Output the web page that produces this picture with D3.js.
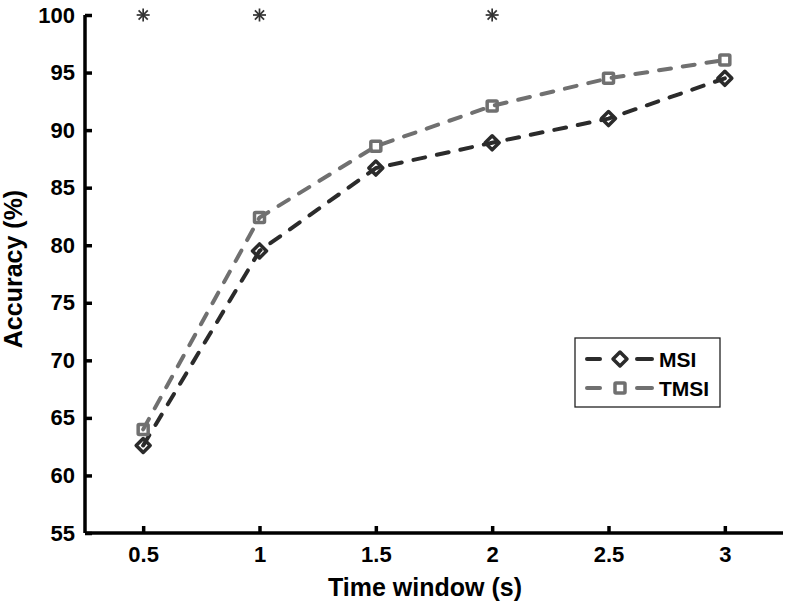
<!DOCTYPE html>
<html>
<head>
<meta charset="utf-8">
<script src="https://cdn.jsdelivr.net/npm/d3@7"></script>
<style>
html, body { margin: 0; padding: 0; background: #fff; }
svg { display: block; }
text { font-family: "Liberation Sans", Arial, Helvetica, sans-serif; font-weight: bold; fill: #000; }
</style>
</head>
<body>
<svg id="chart" width="789" height="604"></svg>
<script>
const timeWindows = [0.5, 1, 1.5, 2, 2.5, 3];
const msiValues  = [62.6, 79.5, 86.7, 88.9, 91.0, 94.5];
const tmsiValues = [64.0, 82.4, 88.6, 92.1, 94.5, 96.1];
const starWindows = [0.5, 1, 2];
const starLevel = 100;
const yTicks = [55, 60, 65, 70, 75, 80, 85, 90, 95, 100];
const xTicks = [0.5, 1, 1.5, 2, 2.5, 3];
const seriesNames = ["MSI", "TMSI"];
const seriesColors = ["#2b2b2b", "#707070"];

(function () {
const svg = d3.select("#chart");
const mLeft = 85, mRight = 783, mTop = 15, mBottom = 533;

const x = d3.scaleLinear().domain([0.25, 3.25]).range([mLeft, mRight]);
const y = d3.scaleLinear().domain([55, 100]).range([mBottom, mTop]);

// axes
const xAxis = svg.append("g").attr("transform", `translate(0,${mBottom})`)
  .call(d3.axisBottom(x).tickValues(xTicks).tickSize(-7).tickPadding(13).tickFormat(d3.format("")));
const yAxis = svg.append("g").attr("transform", `translate(${mLeft},0)`)
  .call(d3.axisLeft(y).tickValues(yTicks).tickSize(-7).tickPadding(10).tickFormat(d3.format("")));

[xAxis, yAxis].forEach(g => {
  g.select(".domain").attr("stroke", "#000").attr("stroke-width", 3.5);
  g.selectAll(".tick line").attr("stroke", "#000").attr("stroke-width", 3.5);
  g.selectAll(".tick text").style("font-size", "22px").style("font-family", "'Liberation Sans', Arial, sans-serif").style("font-weight", "bold").attr("fill", "#000");
});
xAxis.select(".domain").attr("d", `M${mLeft},0H${mRight}`);
yAxis.select(".domain").attr("d", `M0,${mBottom}V${mTop}`);

// titles
svg.append("text").attr("x", 425).attr("y", 596).attr("text-anchor", "middle")
  .style("font-size", "25px").text("Time window (s)");
svg.append("text").attr("transform", "translate(22,269) rotate(-90)").attr("text-anchor", "middle")
  .style("font-size", "25px").text("Accuracy (%)");

const series = [msiValues, tmsiValues];
const line = d3.line().x((d, i) => x(timeWindows[i])).y(d => y(d));

series.forEach((vals, si) => {
  svg.append("path").datum(vals).attr("d", line)
    .attr("fill", "none").attr("stroke", seriesColors[si]).attr("stroke-width", 4)
    .attr("stroke-linecap", "round").attr("stroke-dasharray", "12,12");
});

function marker(g, cx, cy, si) {
  if (si === 0) {
    const r = 7;
    g.append("path").attr("d", `M${cx},${cy - r}L${cx + r},${cy}L${cx},${cy + r}L${cx - r},${cy}Z`)
      .attr("fill", "none").attr("stroke", seriesColors[si]).attr("stroke-width", 3.5).attr("stroke-linejoin", "round");
  } else {
    const h = 5;
    g.append("rect").attr("x", cx - h).attr("y", cy - h).attr("width", 2 * h).attr("height", 2 * h)
      .attr("fill", "none").attr("stroke", seriesColors[si]).attr("stroke-width", 3.5).attr("rx", 1);
  }
}

series.forEach((vals, si) => {
  const g = svg.append("g");
  vals.forEach((v, i) => marker(g, x(timeWindows[i]), y(v), si));
});

// significance stars
const starG = svg.append("g");
starWindows.forEach(t => {
  const cx = x(t), cy = y(starLevel), r = 6.5;
  for (let k = 0; k < 4; k++) {
    const a = k * Math.PI / 4;
    starG.append("line")
      .attr("x1", cx - r * Math.cos(a)).attr("y1", cy - r * Math.sin(a))
      .attr("x2", cx + r * Math.cos(a)).attr("y2", cy + r * Math.sin(a))
      .attr("stroke", "#333").attr("stroke-width", 1.7);
  }
});

// legend
const lg = svg.append("g");
lg.append("rect").attr("x", 575).attr("y", 338).attr("width", 145).attr("height", 69)
  .attr("fill", "#fff").attr("stroke", "#222").attr("stroke-width", 1.3);
seriesNames.forEach((name, si) => {
  const ly = 359 + si * 29;
  [[587, 600], [637, 652]].forEach(([a, b]) => {
    lg.append("line").attr("x1", a).attr("x2", b).attr("y1", ly).attr("y2", ly)
      .attr("stroke", seriesColors[si]).attr("stroke-width", 4).attr("stroke-linecap", "round");
  });
  marker(lg, 620, ly, si);
  lg.append("text").attr("x", 659).attr("y", ly + 7.5).style("font-size", "21px").text(name);
});
})();
</script>
</body>
</html>
